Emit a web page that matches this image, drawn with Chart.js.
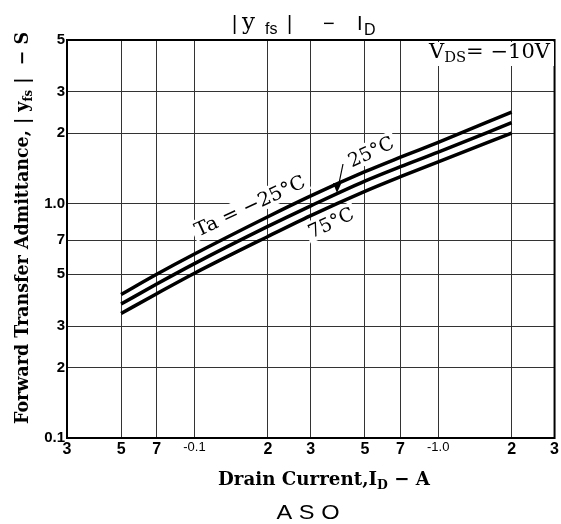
<!DOCTYPE html>
<html>
<head>
<meta charset="utf-8">
<script src="https://cdn.jsdelivr.net/npm/chart.js@4.4.1/dist/chart.umd.min.js"></script>
<style>
  html, body { margin: 0; padding: 0; background: #fff; }
  #wrap { width: 561px; height: 524px; }
</style>
</head>
<body>
<div id="wrap"><canvas id="yfsChart" width="561" height="524"></canvas></div>
<script>
// Drain current (A, absolute) and |yfs| (S)
const drainCurrent = [0.05, 0.07, 0.1, 0.2, 0.3, 0.5, 0.7, 1.0, 2.0];
const yfsTaM25 = [0.41, 0.50, 0.61, 0.88, 1.08, 1.37, 1.58, 1.83, 2.46];
const yfsTa25 = [0.373, 0.454, 0.555, 0.80, 0.98, 1.25, 1.44, 1.66, 2.22];
const yfsTa75 = [0.34, 0.413, 0.505, 0.725, 0.89, 1.13, 1.305, 1.51, 2.0];

// Tick positions and labels printed on the sheet
const xTicks = [0.03, 0.05, 0.07, 0.1, 0.2, 0.3, 0.5, 0.7, 1, 2, 3];
const xTickLabels = ['3', '5', '7', '-0.1', '2', '3', '5', '7', '-1.0', '2', '3'];
const yTicks = [0.1, 0.2, 0.3, 0.5, 0.7, 1, 2, 3, 5];
const yTickLabels = ['0.1', '2', '3', '5', '7', '1.0', '2', '3', '5'];

const SERIF = '"DejaVu Serif", "Liberation Serif", serif';
const SANS = '"Liberation Sans", Arial, sans-serif';

function toPoints(ys) {
    return drainCurrent.map((x, i) => ({ x: x, y: ys[i] }));
}

function curve(label, ys) {
    return {
        label: label,
        data: toPoints(ys),
        borderColor: '#000',
        borderWidth: 3.5,
        pointRadius: 0,
        fill: false,
        cubicInterpolationMode: 'monotone'
    };
}

// Text with subscripts: parts = [[text, font, dy], ...], squeezed/stretched to width w
function drawParts(ctx, parts, x, y, align, w) {
    let total = 0;
    parts.forEach(p => { ctx.font = p[1]; total += ctx.measureText(p[0]).width; });
    const k = w ? w / total : 1;
    const full = total * k;
    const x0 = align === 'center' ? x - full / 2 : (align === 'right' ? x - full : x);
    ctx.save();
    ctx.translate(x0, y);
    ctx.scale(k, 1);
    ctx.textAlign = 'left';
    ctx.textBaseline = 'alphabetic';
    let cx = 0;
    parts.forEach(p => {
        ctx.font = p[1];
        ctx.fillText(p[0], cx, p[2] || 0);
        cx += ctx.measureText(p[0]).width;
    });
    ctx.restore();
}

function rotatedLabel(ctx, text, font, x, y, angle, w) {
    ctx.save();
    ctx.translate(x, y);
    ctx.rotate(angle * Math.PI / 180);
    ctx.font = font;
    const k = w / ctx.measureText(text).width;
    ctx.fillStyle = '#fff';
    ctx.fillRect(-w / 2 - 3, -11, w + 6, 21);
    ctx.fillStyle = '#000';
    ctx.scale(k, 1);
    ctx.textAlign = 'center';
    ctx.textBaseline = 'middle';
    ctx.fillText(text, 0, 1);
    ctx.restore();
}

const sheetText = {
    id: 'sheetText',
    afterDatasetsDraw(chart) {
        const ctx = chart.ctx;
        const a = chart.chartArea;
        ctx.save();
        // plot frame
        ctx.strokeStyle = '#000';
        ctx.lineWidth = 2;
        ctx.strokeRect(a.left, a.top, a.right - a.left, a.bottom - a.top);

        ctx.fillStyle = '#000';
        // curve labels
        rotatedLabel(ctx, 'Ta = −25°C', '19px ' + SERIF, 250, 206, -25, 120);
        rotatedLabel(ctx, '25°C', '19px ' + SERIF, 371, 152, -25, 48);
        rotatedLabel(ctx, '75°C', '19px ' + SERIF, 331, 223, -25, 48);
        // arrow to the 25°C curve
        ctx.strokeStyle = '#000';
        ctx.lineWidth = 1.2;
        ctx.beginPath();
        ctx.moveTo(343, 164);
        ctx.lineTo(338, 188);
        ctx.stroke();
        ctx.beginPath();
        ctx.moveTo(337, 193);
        ctx.lineTo(333, 183);
        ctx.lineTo(341, 184);
        ctx.closePath();
        ctx.fill();

        // VDS condition
        ctx.fillStyle = '#fff';
        ctx.fillRect(426, 42, 128, 24);
        ctx.fillStyle = '#000';
        drawParts(ctx, [
            ['V', '20px ' + SERIF, 0],
            ['DS', '14px ' + SERIF, 4],
            ['= −10V', '20px ' + SERIF, 0]
        ], 429, 58, 'left', 121);

        // title pieces
        ctx.font = '20px ' + SANS;
        ctx.textAlign = 'left';
        ctx.textBaseline = 'alphabetic';
        ctx.fillText('|', 232, 30);
        ctx.fillText('|', 287, 30);
        ctx.fillText('−', 323, 30);
        ctx.fillText('I', 357, 30);
        ctx.font = '23px ' + SERIF;
        ctx.fillText('y', 242, 29);
        ctx.font = '16px ' + SANS;
        ctx.fillText('fs', 265, 34);
        ctx.fillText('D', 364, 35);

        // x axis title
        drawParts(ctx, [
            ['Drain Current,I', 'bold 19px ' + SERIF, 0],
            ['D', 'bold 13px ' + SERIF, 4],
            [' − A', 'bold 19px ' + SERIF, 0]
        ], 218, 485, 'left', 212);

        // extra caption under the chart
        drawParts(ctx, [['A S O', '20px ' + SANS, 0]], 308, 519, 'center', 63);

        // y axis title
        ctx.translate(28, 228);
        ctx.rotate(-Math.PI / 2);
        drawParts(ctx, [
            ['Forward Transfer Admittance, | y', 'bold 18px ' + SERIF, 0],
            ['fs', 'bold 12px ' + SERIF, 4],
            [' |  − S', 'bold 18px ' + SERIF, 0]
        ], 0, 0, 'center', 392);
        ctx.restore();
    }
};

new Chart(document.getElementById('yfsChart').getContext('2d'), {
    type: 'line',
    data: {
        datasets: [
            curve('Ta = -25°C', yfsTaM25),
            curve('Ta = 25°C', yfsTa25),
            curve('Ta = 75°C', yfsTa75)
        ]
    },
    options: {
        responsive: false,
        animation: false,
        layout: { padding: { left: 0, right: 4, top: 40, bottom: 0 } },
        plugins: {
            legend: { display: false },
            title: { display: false },
            tooltip: { enabled: false }
        },
        scales: {
            x: {
                type: 'logarithmic',
                min: 0.03,
                max: 3,
                afterBuildTicks: scale => {
                    scale.ticks = xTicks.map(v => ({ value: v }));
                },
                afterFit: scale => { scale.height = 86; },
                ticks: {
                    autoSkip: false,
                    maxRotation: 0,
                    padding: 2,
                    color: '#000',
                    callback: (value, index) => xTickLabels[index],
                    font: c => {
                        const lbl = xTickLabels[c.index] || '';
                        return lbl.startsWith('-')
                            ? { family: SANS, size: 13, weight: 'normal' }
                            : { family: SANS, size: 16, weight: 'bold' };
                    }
                },
                grid: { color: '#333', lineWidth: 1, drawTicks: false },
                border: { display: false }
            },
            y: {
                type: 'logarithmic',
                min: 0.1,
                max: 5,
                afterBuildTicks: scale => {
                    scale.ticks = yTicks.map(v => ({ value: v }));
                },
                afterFit: scale => { scale.width = 67; },
                ticks: {
                    autoSkip: false,
                    padding: 2,
                    color: '#000',
                    callback: (value, index) => yTickLabels[index],
                    font: { family: SANS, size: 15, weight: 'bold' }
                },
                grid: { color: '#333', lineWidth: 1, drawTicks: false },
                border: { display: false }
            }
        }
    },
    plugins: [sheetText]
});
</script>
</body>
</html>
